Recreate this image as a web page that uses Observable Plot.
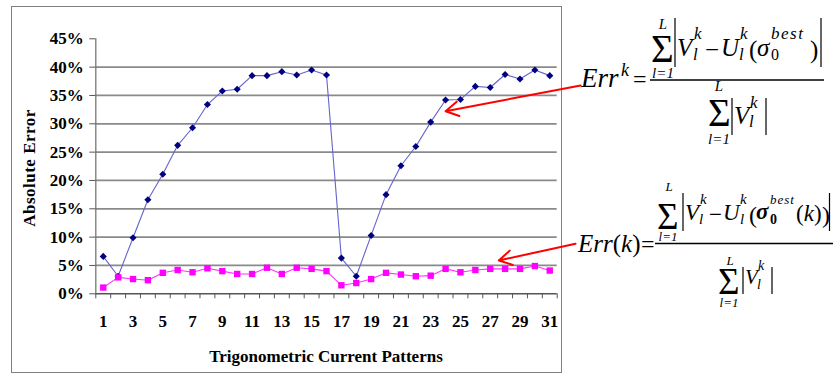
<!DOCTYPE html>
<html>
<head>
<meta charset="utf-8">
<script src="https://cdn.jsdelivr.net/npm/d3@7"></script>
<script src="https://cdn.jsdelivr.net/npm/@observablehq/plot@0.6"></script>
<style>
  html, body { margin: 0; padding: 0; background: #fff; }
  #wrap { position: relative; width: 835px; height: 376px; overflow: hidden; }
  #frame { position: absolute; left: 11px; top: 6px; width: 549px; height: 365px; border: 1.5px solid #808080; }
  #wrap > svg { position: absolute; left: 0; top: 0; }
  #overlay { pointer-events: none; }
  #overlay text, #overlay tspan { font-family: "Liberation Serif", "Times New Roman", serif; }
</style>
</head>
<body>
<div id="wrap"><div id="frame"></div></div>
<script>
// ---- data ----
const patterns = [1,2,3,4,5,6,7,8,9,10,11,12,13,14,15,16,17,18,19,20,21,22,23,24,25,26,27,28,29,30,31];
const errGlobal = [0.066,0.031,0.099,0.166,0.211,0.262,0.293,0.334,0.358,0.361,0.385,0.385,0.392,0.386,0.395,0.386,
                   0.063,0.031,0.103,0.175,0.226,0.260,0.303,0.342,0.343,0.366,0.364,0.387,0.379,0.395,0.385];
const errIndividual = [0.011,0.029,0.026,0.024,0.037,0.042,0.038,0.045,0.040,0.035,0.035,0.046,0.035,0.046,0.044,0.040,
                       0.015,0.019,0.026,0.037,0.034,0.031,0.032,0.044,0.038,0.042,0.044,0.044,0.044,0.049,0.041];
const yTicks = [0,0.05,0.10,0.15,0.20,0.25,0.30,0.35,0.40,0.45];
const gridLevels = [0.05,0.10,0.15,0.20,0.25,0.30,0.35,0.40];
const xLabelTicks = [1,3,5,7,9,11,13,15,17,19,21,23,25,27,29,31];
const xTitle = "Trigonometric Current Patterns";
const yTitle = "Absolute Error";
// arrow annotations (data units: pattern index, error)
const arrowX1 = [33.07, 32.73];
const arrowY1 = [0.3676, 0.0882];
const arrowX2 = [24.0, 27.58];
const arrowY2 = [0.3222, 0.0588];

const globalData = patterns.map((p, i) => ({p, v: errGlobal[i]}));
const indivData = patterns.map((p, i) => ({p, v: errIndividual[i]}));
const arrows = arrowX1.map((x1, i) => ({x1, y1: arrowY1[i], x2: arrowX2[i], y2: arrowY2[i]}));
const boundaries = patterns.map(p => p - 0.5).concat([patterns[patterns.length - 1] + 0.5]);

const W = 835, H = 376;
const plot = Plot.plot({
  width: W, height: H,
  marginLeft: 95.3, marginRight: 278.3, marginTop: 38.3, marginBottom: 82.7,
  x: {type: "linear", domain: [0.5, 31.5]},
  y: {type: "linear", domain: [0, 0.45]},
  style: {background: "transparent", fontFamily: "Liberation Serif, Times New Roman, serif", fontSize: "17px", fontWeight: "bold", color: "#000", overflow: "visible"},
  marks: [
    Plot.ruleY(gridLevels, {stroke: "#8a8a8a", strokeWidth: 1.7}),
    Plot.ruleY([0], {stroke: "#555", strokeWidth: 1.5}),
    Plot.ruleX([0.5], {stroke: "#777", strokeWidth: 1.3}),
    Plot.axisY(yTicks, {tickSize: 6, tickPadding: 6, tickFormat: d => Math.round(d * 100) + "%", stroke: "#555", fontSize: 17, fontWeight: "bold"}),
    Plot.axisX(boundaries, {tickSize: 5, tickFormat: () => "", stroke: "#555"}),
    Plot.axisX(xLabelTicks, {tickSize: 0, tickPadding: 21, fontSize: 17, fontWeight: "bold"}),
    Plot.line(globalData, {x: "p", y: "v", stroke: "#6464cc", strokeWidth: 1.1}),
    Plot.dot(globalData, {x: "p", y: "v", symbol: "diamond2", r: 3.2, fill: "#000080", stroke: "none"}),
    Plot.line(indivData, {x: "p", y: "v", stroke: "#ff33ff", strokeWidth: 1.1}),
    Plot.dot(indivData, {x: "p", y: "v", symbol: "square", r: 3.6, fill: "#ff00ff", stroke: "none"}),
    Plot.arrow(arrows, {x1: "x1", y1: "y1", x2: "x2", y2: "y2", stroke: "#ff0000", strokeWidth: 2, headLength: 11, bend: 0})
  ]
});
document.getElementById("wrap").appendChild(plot);

// ---- overlay: titles and formulas ----
const NS = "http://www.w3.org/2000/svg";
const ov = document.createElementNS(NS, "svg");
ov.setAttribute("id", "overlay");
ov.setAttribute("width", W); ov.setAttribute("height", H);
ov.style.fontFamily = '"Liberation Serif", "Times New Roman", serif';
document.getElementById("wrap").appendChild(ov);
// segs: string or array of [text, italic]
function T(x, y, segs, size, o = {}) {
  const t = document.createElementNS(NS, "text");
  t.setAttribute("x", x); t.setAttribute("y", y);
  t.style.fontFamily = '"Liberation Serif", "Times New Roman", serif';
  t.style.fontSize = size + "px";
  t.style.fontStyle = o.italic ? "italic" : "normal";
  t.style.fontWeight = o.bold ? "bold" : "normal";
  if (o.anchor) t.setAttribute("text-anchor", o.anchor);
  if (o.ls) t.style.letterSpacing = o.ls + "px";
  if (o.transform) t.setAttribute("transform", o.transform);
  t.setAttribute("fill", "#000");
  if (typeof segs === "string") t.textContent = segs;
  else segs.forEach(([s, it]) => {
    const ts = document.createElementNS(NS, "tspan");
    ts.style.fontStyle = it ? "italic" : "normal";
    ts.textContent = s;
    t.appendChild(ts);
  });
  ov.appendChild(t);
  return t;
}
function L(x1, y1, x2, y2, w = 1.3) {
  const l = document.createElementNS(NS, "line");
  l.setAttribute("x1", x1); l.setAttribute("y1", y1);
  l.setAttribute("x2", x2); l.setAttribute("y2", y2);
  l.setAttribute("stroke", "#000"); l.setAttribute("stroke-width", w);
  ov.appendChild(l);
}
// axis titles
T(326, 362, xTitle, 17, {bold: true, anchor: "middle"});
T(0, 0, yTitle, 17, {bold: true, anchor: "middle", ls: 0.5, transform: "translate(35,168) rotate(-90)"});

// Formula 1: Err^k
T(581, 87, "Err", 27, {italic: true});
T(621, 76, "k", 18, {italic: true});
T(633, 87, "=", 24);
L(650, 80, 824, 80, 1.3);
T(651, 62, "Σ", 39);
T(663, 29, "L", 15, {italic: true, anchor: "middle"});
T(663, 78, "l=1", 15, {italic: true, anchor: "middle"});
L(675, 18, 675, 67, 1.2); L(821, 18, 821, 67, 1.2);
T(677, 56, "V", 25, {italic: true});
T(694, 39, "k", 17, {italic: true});
T(693, 60, "l", 17, {italic: true});
T(705, 58, "−", 25);
T(721, 56, "U", 25, {italic: true});
T(740, 39, "k", 17, {italic: true});
T(739, 60, "l", 17, {italic: true});
T(749, 58, "(", 25);
T(757, 56, "σ", 25, {italic: true});
T(771, 60, "0", 16);
T(771, 39, "best", 17, {italic: true, ls: 1.5});
T(810, 58, ")", 25);
T(708, 126, "Σ", 39);
T(719, 91, "L", 15, {italic: true, anchor: "middle"});
T(719, 144, "l=1", 15, {italic: true, anchor: "middle"});
L(732, 98, 732, 135, 1.2); L(766, 98, 766, 135, 1.2);
T(734, 124, "V", 25, {italic: true});
T(750, 108, "k", 17, {italic: true});
T(749, 127, "l", 17, {italic: true});

// Formula 2: Err(k)
T(578, 252, [["Err", true], ["(", false], ["k", true], [")", false]], 25);
T(641, 252, "=", 24);
L(655, 243.5, 833, 243.5, 1.3);
T(657, 229, "Σ", 37);
T(669, 191, "L", 13, {italic: true, anchor: "middle"});
T(668, 241, "l=1", 13, {italic: true, anchor: "middle"});
L(683, 193, 683, 231, 1.2); L(829.5, 193, 829.5, 231, 1.2);
T(685, 220, "V", 23, {italic: true});
T(700, 204, "k", 15, {italic: true});
T(699, 224, "l", 15, {italic: true});
T(709, 222, "−", 23);
T(723, 220, "U", 23, {italic: true});
T(740, 204, "k", 15, {italic: true});
T(740, 224, "l", 15, {italic: true});
T(749, 223, "(", 24);
T(756, 219, "σ", 23, {italic: true, bold: true});
T(770, 224, "0", 14, {bold: true});
T(770, 204, "best", 13, {italic: true, ls: 1});
T(796, 221, [["(", false], ["k", true], [")", false]], 23);
T(822, 223, ")", 24);
T(718, 294, "Σ", 37);
T(730, 265, "L", 13, {italic: true, anchor: "middle"});
T(729, 307, "l=1", 13, {italic: true, anchor: "middle"});
L(743, 267, 743, 294, 1.2); L(772, 267, 772, 294, 1.2);
T(745, 284, "V", 21, {italic: true});
T(758, 270, "k", 14, {italic: true});
T(757, 289, "l", 14, {italic: true});
</script>
</body>
</html>
